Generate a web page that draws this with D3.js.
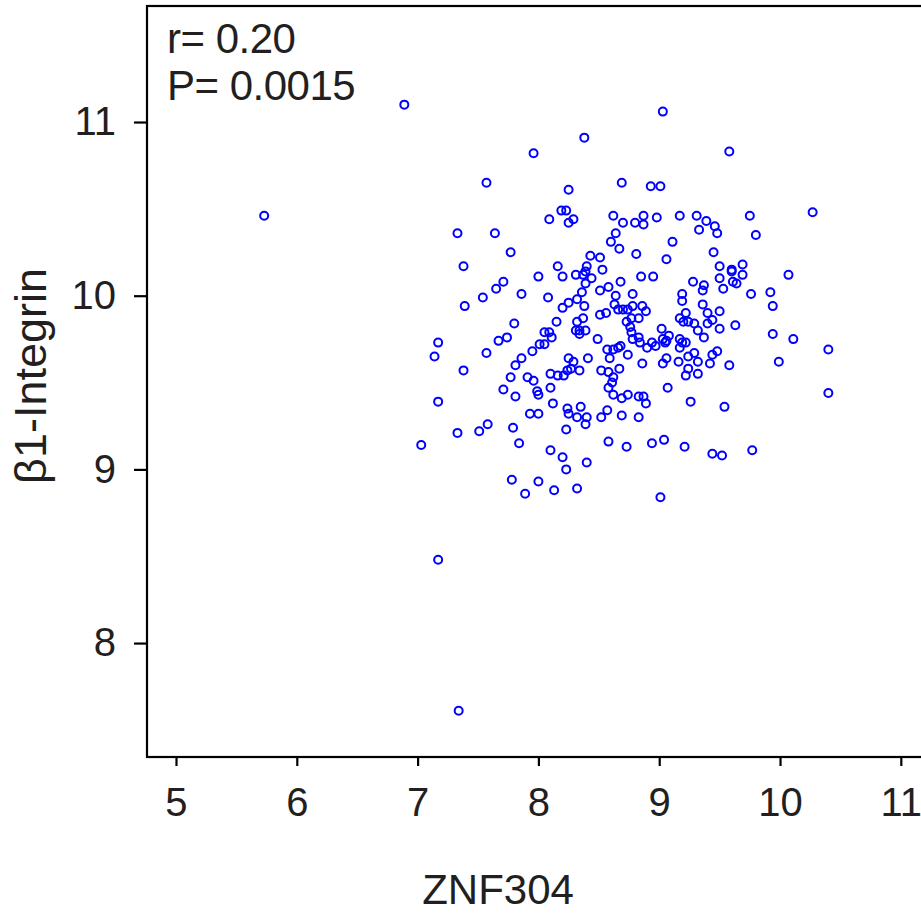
<!DOCTYPE html>
<html>
<head>
<meta charset="utf-8">
<script src="https://cdn.jsdelivr.net/npm/d3@7"></script>
<style>
  html, body { margin: 0; padding: 0; background: #fff; }
  svg { display: block; }
  text { font-family: "Liberation Sans", Arial, Helvetica, sans-serif; fill: #231f20; }
</style>
</head>
<body>
<svg id="chart" width="921" height="913"></svg>
<script>
// ZNF304 expression (x) and β1-Integrin expression (y), one entry per sample
const znf304 = [
  6.89, 8.38, 7.96, 7.57, 8.25, 8.19, 8.23, 8.09, 8.29, 8.25,
  7.33, 7.64, 8.62, 8.69, 8.64, 8.60, 8.67, 7.77, 8.43, 8.51,
  7.38, 8.16, 8.40, 8.53, 9.03, 9.58, 8.93, 9.01, 8.70, 8.80,
  8.87, 8.87, 8.98, 9.17, 9.31, 9.39, 9.46, 9.33, 9.48, 9.75,
  9.80, 10.27, 8.81, 9.11, 9.06, 9.45, 9.50, 9.60, 9.69, 8.20,
  8.31, 8.00, 8.37, 8.44, 8.39, 7.71, 7.65, 7.54, 7.86, 8.08,
  8.39, 8.36, 8.51, 8.58, 8.64, 8.68, 7.39, 8.20, 8.25, 8.32,
  8.38, 8.63, 8.66, 8.51, 8.56, 7.80, 8.15, 8.32, 8.37, 8.31,
  8.34, 8.39, 8.34, 8.05, 8.09, 8.11, 8.01, 8.05, 7.67, 7.74,
  7.17, 7.14, 7.57, 7.95, 8.49, 8.57, 8.62, 8.59, 8.66, 7.86,
  7.81, 8.25, 8.29, 8.27, 8.24, 8.34, 8.41, 7.38, 7.77, 8.10,
  8.16, 8.21, 7.91, 7.96, 8.52, 8.58, 8.62, 8.61, 8.58, 8.62,
  7.71, 7.81, 7.99, 8.00, 8.10, 7.17, 8.12, 7.93, 8.00, 8.24,
  8.35, 8.25, 8.32, 8.40, 8.39, 8.57, 8.52, 8.69, 7.58, 7.79,
  7.51, 7.33, 8.23, 9.60, 9.69, 8.85, 8.95, 9.28, 9.37, 9.36,
  9.50, 9.53, 9.61, 9.64, 9.76, 9.92, 10.07, 9.94, 8.78, 9.19,
  9.19, 8.70, 8.74, 8.78, 8.86, 8.89, 8.73, 8.77, 8.83, 8.76,
  8.77, 8.78, 8.83, 8.84, 9.36, 9.40, 9.50, 9.22, 9.17, 9.20,
  9.24, 9.29, 9.44, 9.40, 9.32, 9.50, 9.63, 9.02, 9.08, 9.37,
  9.17, 9.22, 9.19, 9.17, 9.03, 9.06, 9.05, 8.94, 8.97, 8.90,
  8.68, 8.74, 8.67, 8.86, 9.06, 9.03, 9.16, 9.24, 9.29, 9.32,
  9.42, 9.44, 9.48, 9.58, 9.24, 9.22, 9.32, 9.94, 10.11, 9.99,
  10.40, 10.40, 8.69, 8.74, 8.83, 8.87, 8.89, 9.07, 9.26, 9.54,
  8.83, 7.03, 7.84, 8.10, 8.20, 8.23, 8.40, 8.58, 7.78, 8.00,
  7.89, 8.13, 8.32, 8.73, 8.94, 9.04, 9.21, 9.44, 9.52, 9.77,
  9.01, 5.73, 7.17, 7.34
];
const integrinB1 = [
  11.10, 10.91, 10.82, 10.65, 10.61, 10.49, 10.49, 10.44, 10.44, 10.42,
  10.36, 10.36, 10.46, 10.65, 10.36, 10.31, 10.27, 10.25, 10.23, 10.22,
  10.17, 10.17, 10.17, 10.15, 11.06, 10.83, 10.63, 10.63, 10.42, 10.42,
  10.46, 10.41, 10.45, 10.46, 10.46, 10.43, 10.40, 10.38, 10.36, 10.46,
  10.35, 10.48, 10.24, 10.31, 10.21, 10.25, 10.17, 10.15, 10.18, 10.11,
  10.12, 10.11, 10.12, 10.10, 10.14, 10.08, 10.04, 9.99, 10.01, 9.99,
  10.07, 10.02, 10.03, 10.05, 10.00, 10.08, 9.94, 9.93, 9.96, 9.98,
  9.94, 9.95, 9.92, 9.89, 9.90, 9.84, 9.85, 9.85, 9.87, 9.80,
  9.80, 9.80, 9.78, 9.79, 9.79, 9.76, 9.72, 9.72, 9.74, 9.76,
  9.73, 9.65, 9.67, 9.68, 9.75, 9.69, 9.69, 9.64, 9.70, 9.64,
  9.60, 9.64, 9.62, 9.58, 9.57, 9.57, 9.64, 9.57, 9.53, 9.55,
  9.54, 9.54, 9.53, 9.51, 9.57, 9.56, 9.53, 9.50, 9.47, 9.43,
  9.46, 9.42, 9.45, 9.43, 9.47, 9.39, 9.38, 9.32, 9.32, 9.35,
  9.36, 9.32, 9.30, 9.30, 9.26, 9.34, 9.30, 9.31, 9.26, 9.24,
  9.22, 9.21, 9.23, 10.14, 10.12, 10.11, 10.11, 10.08, 10.06, 10.03,
  10.10, 10.04, 10.08, 10.07, 10.01, 10.02, 10.12, 9.94, 10.01, 10.01,
  9.97, 9.92, 9.92, 9.94, 9.94, 9.91, 9.85, 9.87, 9.87, 9.82,
  9.79, 9.75, 9.76, 9.73, 9.95, 9.90, 9.91, 9.90, 9.87, 9.85,
  9.85, 9.84, 9.86, 9.84, 9.80, 9.81, 9.83, 9.81, 9.77, 9.76,
  9.75, 9.73, 9.73, 9.70, 9.75, 9.74, 9.73, 9.73, 9.71, 9.70,
  9.71, 9.66, 9.58, 9.61, 9.64, 9.61, 9.62, 9.65, 9.67, 9.62,
  9.61, 9.66, 9.68, 9.60, 9.58, 9.54, 9.55, 9.78, 9.75, 9.62,
  9.69, 9.44, 9.41, 9.43, 9.42, 9.42, 9.38, 9.47, 9.39, 9.36,
  9.30, 9.14, 9.15, 9.11, 9.07, 9.00, 9.04, 9.16, 8.94, 8.93,
  8.86, 8.88, 8.89, 9.13, 9.15, 9.17, 9.13, 9.09, 9.08, 9.11,
  8.84, 10.46, 8.48, 7.61
];
const xTicks = [5, 6, 7, 8, 9, 10, 11];
const yTicks = [8, 9, 10, 11];
const xTitle = "ZNF304";
const yTitle = "β1-Integrin";
const statLines = ["r= 0.20", "P= 0.0015"];

const points = znf304.map((v, i) => ({ x: v, y: integrinB1[i] }));

const svg = d3.select("#chart");
const plotLeft = 147, plotTop = 6, plotBottom = 757, plotRight = 921;

const x = d3.scaleLinear().domain([4.760, 11.167]).range([plotLeft, plotRight]);
const y = d3.scaleLinear().domain([7.344, 11.668]).range([plotBottom, plotTop]);

// axes (ticks + labels)
const xAxis = svg.append("g")
  .attr("transform", `translate(0,${plotBottom})`)
  .call(d3.axisBottom(x).tickValues(xTicks).tickSize(9).tickPadding(22).tickFormat(d3.format("d")));
xAxis.select(".domain").remove();
xAxis.selectAll(".tick line").attr("stroke", "#000").attr("stroke-width", 2.2);
xAxis.selectAll(".tick text")
  .style("font-family", '"Liberation Sans", Arial, sans-serif')
  .style("font-size", "40px").attr("fill", "#231f20");

const yAxis = svg.append("g")
  .attr("transform", `translate(${plotLeft},0)`)
  .call(d3.axisLeft(y).tickValues(yTicks).tickSize(13).tickPadding(18).tickFormat(d3.format("d")));
yAxis.select(".domain").remove();
yAxis.selectAll(".tick line").attr("stroke", "#000").attr("stroke-width", 2.2);
yAxis.selectAll(".tick text")
  .style("font-family", '"Liberation Sans", Arial, sans-serif')
  .style("font-size", "40px").attr("fill", "#231f20");

// frame (right edge falls outside the picture)
svg.append("rect")
  .attr("x", plotLeft).attr("y", plotTop)
  .attr("width", plotRight + 20 - plotLeft).attr("height", plotBottom - plotTop)
  .attr("fill", "none").attr("stroke", "#000").attr("stroke-width", 2.2);

// points
svg.append("g").selectAll("circle")
  .data(points).join("circle")
  .attr("cx", d => x(d.x))
  .attr("cy", d => y(d.y))
  .attr("r", 4)
  .attr("fill", "none")
  .attr("stroke", "#0000ff")
  .attr("stroke-width", 2);

// stats annotation
svg.append("g").selectAll("text")
  .data(statLines).join("text")
  .attr("x", 167)
  .attr("y", (d, i) => 53 + i * 47)
  .style("font-size", "42px")
  .style("letter-spacing", "-0.5px")
  .text(d => d);

// axis titles
svg.append("text")
  .attr("x", 498).attr("y", 904)
  .attr("text-anchor", "middle")
  .style("font-size", "42px")
  .text(xTitle);

svg.append("text")
  .attr("transform", "translate(46,376) rotate(-90)")
  .attr("text-anchor", "middle")
  .style("font-size", "45px")
  .text(yTitle);
</script>
</body>
</html>
